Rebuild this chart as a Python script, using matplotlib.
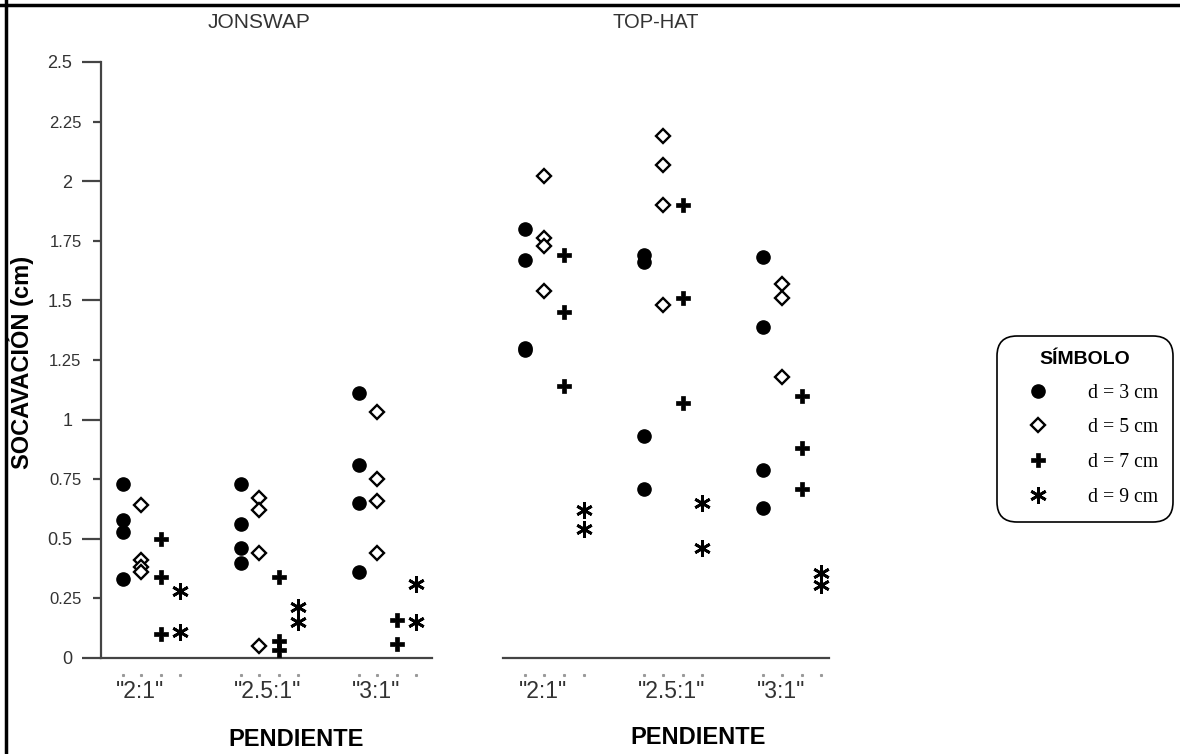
import numpy as np
import matplotlib
matplotlib.use("Agg")
import matplotlib.pyplot as plt
from matplotlib.lines import Line2D

plt.rcParams['font.family'] = ['Liberation Sans', 'DejaVu Sans']

# data
categories = ['"2:1"', '"2.5:1"', '"3:1"']
series_labels = ['d = 3 cm', 'd = 5 cm', 'd = 7 cm', 'd = 9 cm']

jonswap_d3 = [[0.73, 0.58, 0.53, 0.33], [0.73, 0.56, 0.46, 0.40], [1.11, 0.81, 0.65, 0.36]]
jonswap_d5 = [[0.64, 0.41, 0.38, 0.36], [0.67, 0.62, 0.44, 0.05], [1.03, 0.75, 0.66, 0.44]]
jonswap_d7 = [[0.50, 0.34, 0.10], [0.34, 0.07, 0.035], [0.16, 0.06]]
jonswap_d9 = [[0.28, 0.11], [0.215, 0.15], [0.31, 0.15]]

tophat_d3 = [[1.80, 1.67, 1.30, 1.29], [1.69, 1.66, 0.93, 0.71], [1.68, 1.39, 0.79, 0.63]]
tophat_d5 = [[2.02, 1.76, 1.73, 1.54], [2.19, 2.07, 1.90, 1.48], [1.57, 1.51, 1.18]]
tophat_d7 = [[1.69, 1.45, 1.14], [1.90, 1.51, 1.07], [1.10, 0.88, 0.71]]
tophat_d9 = [[0.62, 0.54], [0.65, 0.46], [0.355, 0.305]]

# marker styles per series
styles = [
    dict(marker='o', ms=9.5, mfc='black', mec='black', mew=1),
    dict(marker='D', ms=7.2, mfc='white', mec='black', mew=1.7),
    dict(marker='P', ms=10.5, mfc='black', mec='black', mew=0.5),
    dict(marker=(6, 2, 0), ms=12, mfc='black', mec='black', mew=2),
]
offsets = [-0.245, -0.085, 0.08, 0.245]
axis_col = '#444444'
text_col = '#333333'

fig = plt.figure(figsize=(11.8, 7.54), dpi=100)

# frame lines (only top and left show in the reference)
fig.add_artist(Line2D([0, 1], [1 - 5 / 754, 1 - 5 / 754], color='black', lw=2.5))
fig.add_artist(Line2D([6 / 1180, 6 / 1180], [0, 1], color='black', lw=2.5))

ax1 = fig.add_axes([101 / 1180, 96 / 754, 331 / 1180, 596 / 754])
ax2 = fig.add_axes([503 / 1180, 96 / 754, 326 / 1180, 596 / 754])


def draw_panel(ax, data):
    cat_x = np.arange(1, len(categories) + 1)
    for s, (series, st) in enumerate(zip(data, styles)):
        for i, vals in enumerate(series):
            xs = np.full(len(vals), cat_x[i] + offsets[s])
            ax.plot(xs, vals, ls='none', clip_on=False, zorder=3, **st)
    # tiny dotted tick marks under the axis
    for i in cat_x:
        for o in offsets:
            ax.plot([i + o], [-0.071], marker='s', ms=1.2, color='#999999',
                    clip_on=False, ls='none')
    for i, lab in zip(cat_x, categories):
        ax.text(i - 0.3, -0.057, lab, transform=ax.get_xaxis_transform(),
                ha='left', va='center', fontsize=16.5, color=text_col)
    ax.set_ylim(0, 2.5)
    ax.set_xticks([])
    ax.set_facecolor('none')
    for sp in ['top', 'right']:
        ax.spines[sp].set_visible(False)
    ax.spines['bottom'].set_color(axis_col)
    ax.spines['bottom'].set_linewidth(1.6)


draw_panel(ax1, [jonswap_d3, jonswap_d5, jonswap_d7, jonswap_d9])
draw_panel(ax2, [tophat_d3, tophat_d5, tophat_d7, tophat_d9])
ax1.set_xlim(0.572, 3.377)
ax2.set_xlim(0.566, 3.31)

# left panel y axis, major and minor labels
ax1.spines['left'].set_color(axis_col)
ax1.spines['left'].set_linewidth(1.6)
ax1.set_yticks([0, 0.5, 1, 1.5, 2, 2.5])
ax1.set_yticklabels(['0', '0.5', '1', '1.5', '2', '2.5'])
ax1.set_yticks([0.25, 0.75, 1.25, 1.75, 2.25], minor=True)
ax1.set_yticklabels(['0.25', '0.75', '1.25', '1.75', '2.25'], minor=True)
ax1.tick_params(axis='y', which='major', length=13.7, width=1.6, color=axis_col,
                pad=7, labelsize=13, labelcolor=text_col)
ax1.tick_params(axis='y', which='minor', length=6, width=1.6, color=axis_col,
                pad=8, labelsize=12, labelcolor=text_col)

ax2.spines['left'].set_visible(False)
ax2.set_yticks([])

# titles and axis labels
fig.text(259.5 / 1180, 1 - 22 / 754, 'JONSWAP', ha='center', va='center',
         fontsize=15, color=text_col)
fig.text(656 / 1180, 1 - 22 / 754, 'TOP-HAT', ha='center', va='center',
         fontsize=14.5, color=text_col)
fig.text(21 / 1180, 1 - 362 / 754, 'SOCAVACIÓN (cm)', rotation=90, ha='center',
         va='center', fontsize=17, fontweight='bold', color='black')
fig.text(296 / 1180, 1 - 740 / 754, 'PENDIENTE', ha='center', va='center',
         fontsize=17, fontweight='bold', color='black')
fig.text(698 / 1180, 1 - 738 / 754, 'PENDIENTE', ha='center', va='center',
         fontsize=17, fontweight='bold', color='black')

# legend
handles = [Line2D([], [], ls='none', **st) for st in styles]
leg = fig.legend(handles, series_labels, title='SÍMBOLO', loc='upper left',
                 bbox_to_anchor=(999 / 1180, 1 - 338 / 754), borderaxespad=0,
                 prop={'family': 'Liberation Serif', 'size': 14.2},
                 title_fontproperties={'family': 'Liberation Sans', 'weight': 'bold', 'size': 14},
                 fancybox=True, edgecolor='black', framealpha=1,
                 handletextpad=1.15, labelspacing=0.8, borderpad=0.65,
                 handlelength=2.7)
leg.get_frame().set_linewidth(1.2)
leg.get_frame().set_boxstyle('round', pad=0.1, rounding_size=1.0)

fig.savefig('out.png', dpi=100)
